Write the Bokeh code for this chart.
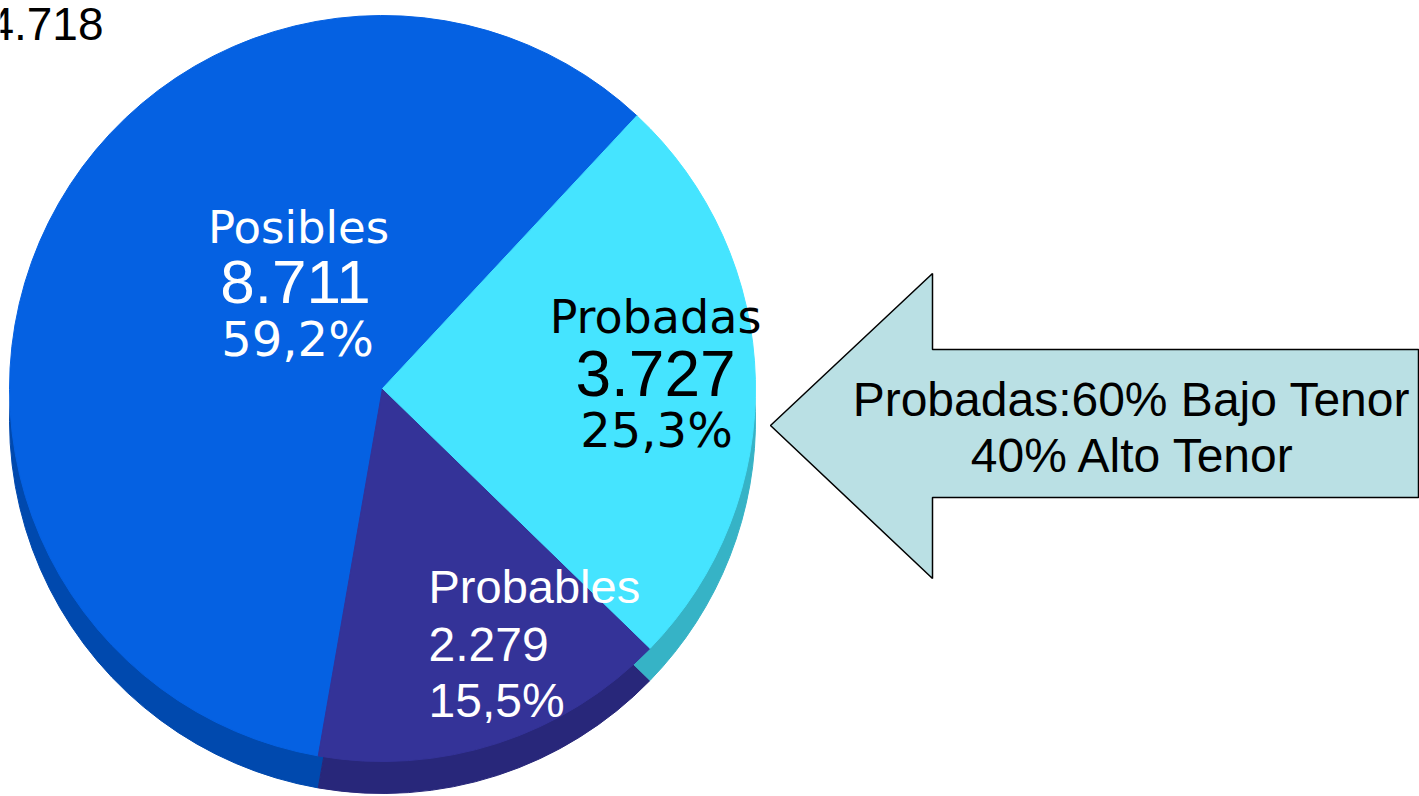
import math
from bokeh.plotting import figure
from bokeh.models import Range1d
from bokeh.core.properties import value
from bokeh.embed import file_html
from bokeh.resources import INLINE

# ---- data ----
categories = ["Posibles", "Probables", "Probadas"]
values = [8.711, 2.279, 3.727]
percent_labels = ["59,2%", "15,5%", "25,3%"]
value_labels = ["8.711", "2.279", "3.727"]
total_label = "14.718"
top_colors = ["#0561E2", "#343398", "#45E4FF"]
side_colors = ["#0049AE", "#28277A", "#36B3C6"]
note_lines = ["Probadas:60% Bajo Tenor", "40% Alto Tenor"]

W, H = 1419, 796
p = figure(width=W, height=H, output_backend="svg", toolbar_location=None,
           x_range=Range1d(0, W), y_range=Range1d(0, H), min_border=0)
p.axis.visible = False
p.grid.visible = False
p.outline_line_color = None
p.background_fill_color = "white"
p.border_fill_color = "white"

# ---- pie geometry ----
cx, cy, r, depth = 382, 408, 373, 32
start0 = math.radians(47)
total = sum(values)
starts, ends = [], []
a = start0
for v in values:
    starts.append(a)
    a += 2 * math.pi * v / total
    ends.append(a)

# side (extrusion)
p.wedge(x=[cx] * 3, y=[cy - depth] * 3, radius=r, start_angle=starts, end_angle=ends,
        fill_color=side_colors, line_color=side_colors, line_width=1)
# top faces
p.wedge(x=[cx] * 3, y=[cy] * 3, radius=r, start_angle=starts, end_angle=ends,
        fill_color=top_colors, line_color=top_colors, line_width=1)

font = value("Liberation Sans")
font2 = value("DejaVu Sans")

def label(x, y, t, f, size, color, align="center"):
    p.text(x=[x], y=[y], text=[t], text_font=f, text_font_size=f"{size}px",
           text_color=color, text_align=align, text_baseline="alphabetic")

# Posibles labels
label(298, 569, categories[0], font2, 45, "white")
label(295, 515, value_labels[0], font, 62, "white")
label(297, 458, percent_labels[0], font2, 48, "white")

# Probadas labels
label(655, 480, categories[2], font2, 46, "black")
label(655, 423, value_labels[2], font, 64, "black")
label(656, 367, percent_labels[2], font2, 48, "black")

# Probables labels
label(428, 210, categories[1], font, 47, "white", "left")
label(428, 152, value_labels[1], font, 48, "white", "left")
label(428, 96, percent_labels[1], font, 48, "white", "left")

# total (clipped at left edge as in the original slide)
label(103, 773, total_label, font, 46, "black", "right")

# ---- arrow callout ----
arrow_x = [770, 932, 932, 1418, 1418, 932, 932]
arrow_y = [371, 523, 447, 447, 299, 299, 218]
p.patch(arrow_x, arrow_y, fill_color="#BAE0E4", line_color="black", line_width=1.5)
label(1131, 397, note_lines[0], font, 48, "black")
label(1133, 341, note_lines[1], font, 48, "black")

open("out.html", "w").write(file_html(p, INLINE))
